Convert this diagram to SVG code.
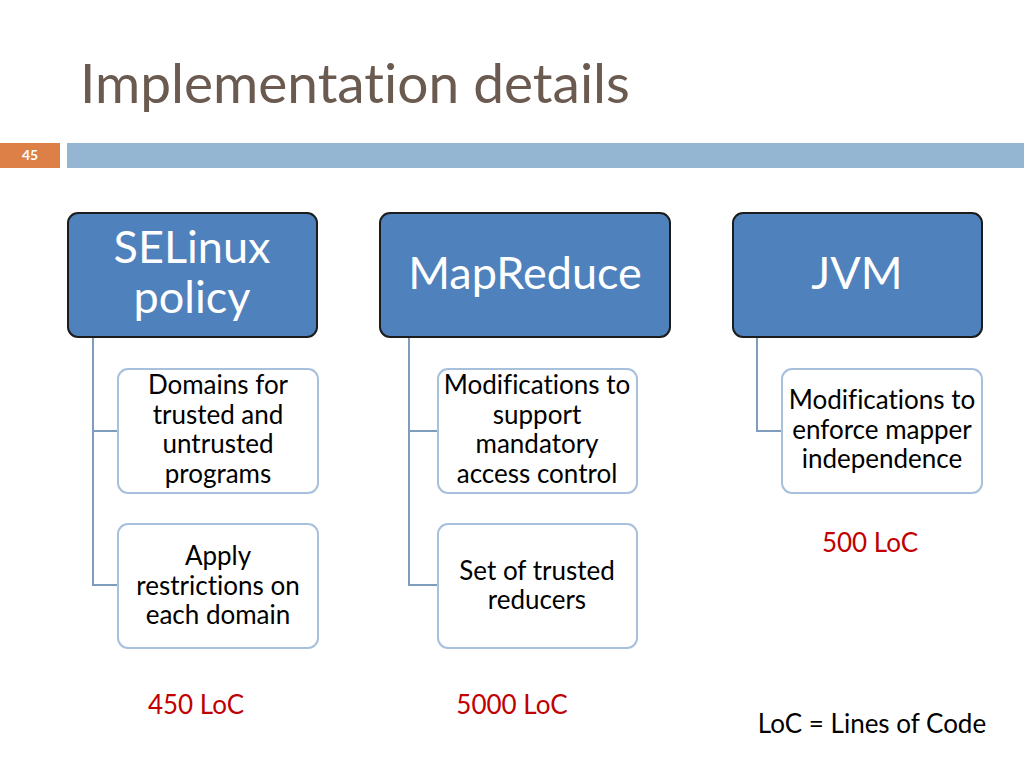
<svg xmlns="http://www.w3.org/2000/svg" width="1024" height="768" viewBox="0 0 1024 768">
<style>
text{font-family:Lato,"Open Sans","Liberation Sans",sans-serif;font-variant-ligatures:none}
.head{fill:#4f81bd;stroke:#1c1c1c;stroke-width:2}
.head-t{fill:#fff;font-size:45px;text-anchor:middle}
.child{fill:#fff;stroke:#a7c0dc;stroke-width:2}
.child-t{fill:#000;font-size:26px;text-anchor:middle}
.conn{fill:none;stroke:#7e9cbc;stroke-width:2}
.loc{fill:#c00000;font-size:26px;text-anchor:middle}
</style>
<rect width="1024" height="768" fill="#fff"/>
<text x="80" y="103" font-size="55" fill="#6b5a4f">Implementation details</text>
<rect x="0" y="143" width="60" height="25" fill="#dd8047"/>
<text x="30" y="160" font-size="14" font-weight="bold" fill="#fff" text-anchor="middle">45</text>
<rect x="67" y="143" width="957" height="25" fill="#94b6d2"/>
<g id="connectors">
<path class="conn" d="M93 337V585H118M93 431H118"/>
<path class="conn" d="M409 337V585H438M409 431H438"/>
<path class="conn" d="M757 337V431H782"/>
</g>
<g id="selinux"><rect class="head" x="68" y="213" width="249" height="124" rx="10"/>
<text class="head-t" x="192" y="263">SELinux</text><text class="head-t" x="192" y="313">policy</text></g>
<g id="mapreduce"><rect class="head" x="380" y="213" width="290" height="124" rx="10"/>
<text class="head-t" x="525" y="289">MapReduce</text></g>
<g id="jvm"><rect class="head" x="733" y="213" width="249" height="124" rx="10"/>
<text class="head-t" x="857" y="289">JVM</text></g>
<g id="domains"><rect class="child" x="118" y="369" width="200" height="124" rx="10"/>
<text class="child-t" x="218" y="394">Domains for</text><text class="child-t" x="218" y="424">trusted and</text><text class="child-t" x="218" y="453">untrusted</text><text class="child-t" x="218" y="483">programs</text></g>
<g id="apply"><rect class="child" x="118" y="524" width="200" height="124" rx="10"/>
<text class="child-t" x="218" y="565">Apply</text><text class="child-t" x="218" y="595">restrictions on</text><text class="child-t" x="218" y="624">each domain</text></g>
<g id="mods-mr"><rect class="child" x="438" y="369" width="199" height="124" rx="10"/>
<text class="child-t" x="537" y="394">Modifications to</text><text class="child-t" x="537" y="424">support</text><text class="child-t" x="537" y="453">mandatory</text><text class="child-t" x="537" y="483">access control</text></g>
<g id="reducers"><rect class="child" x="438" y="524" width="199" height="124" rx="10"/>
<text class="child-t" x="537" y="580">Set of trusted</text><text class="child-t" x="537" y="609">reducers</text></g>
<g id="mods-jvm"><rect class="child" x="782" y="369" width="200" height="124" rx="10"/>
<text class="child-t" x="882" y="409">Modifications to</text><text class="child-t" x="882" y="439">enforce mapper</text><text class="child-t" x="882" y="468">independence</text></g>
<text class="loc" x="870" y="552">500 LoC</text>
<text class="loc" x="196" y="714">450 LoC</text>
<text class="loc" x="512" y="714">5000 LoC</text>
<text x="872" y="733" font-size="26" text-anchor="middle" fill="#000">LoC = Lines of Code</text>
</svg>
